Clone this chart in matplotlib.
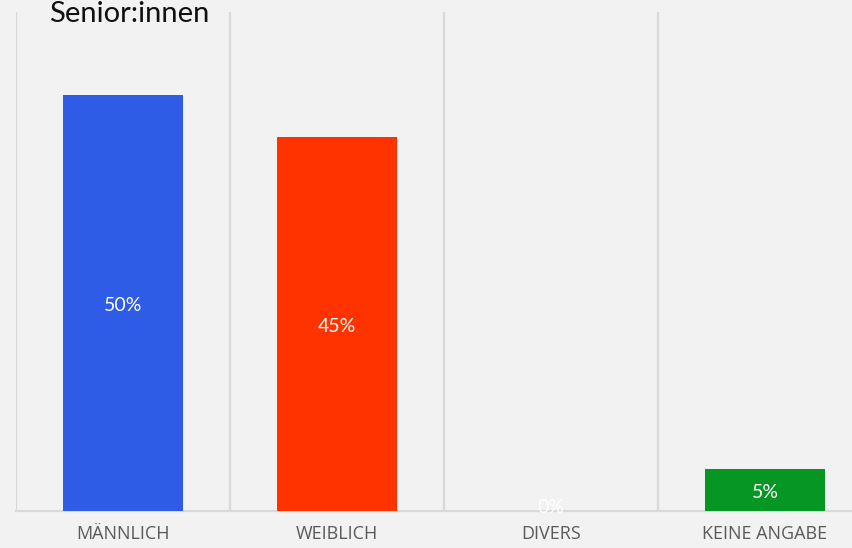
import matplotlib
matplotlib.use("Agg")
import matplotlib.pyplot as plt

categories = ["MÄNNLICH", "WEIBLICH", "DIVERS", "KEINE ANGABE"]
values = [50, 45, 0, 5]
value_labels = ["50%", "45%", "0%", "5%"]
colors = ["#2f5ce6", "#ff3300", "#a0a0a0", "#069623"]
title = "Senior:innen"

W, H = 853, 548
fig = plt.figure(figsize=(W / 100, H / 100), dpi=100, facecolor="#f2f2f2")
left, right, bottom, top = 16, 872, 511, 12
ax = fig.add_axes([left / W, (H - bottom) / H, (right - left) / W, (bottom - top) / H])
ax.set_facecolor("#f2f2f2")

x = list(range(len(categories)))
ax.bar(x, values, width=0.56, color=colors, zorder=3)
ax.set_xlim(-0.5, len(categories) - 0.5)
ax.set_ylim(0, 60)

# vertical separators
for b in [i - 0.5 for i in range(len(categories))]:
    ax.axvline(b, color="#d9d9d9", lw=1.6, zorder=1)

for s in ["top", "right", "left"]:
    ax.spines[s].set_visible(False)
ax.spines["bottom"].set_color("#d9d9d9")
ax.spines["bottom"].set_linewidth(1.6)
ax.set_yticks([])
ax.set_xticks(x)
ax.set_xticklabels(categories, family="Open Sans", fontsize=13, color="#5a5a5a")
ax.tick_params(axis="x", length=0, pad=10)

for xi, v, lab in zip(x, values, value_labels):
    ax.text(xi, max(v / 2, 0.75) - 0.3, lab, ha="center", va="center", color="white",
            family="Lato", fontsize=14, zorder=4)

fig.text(129 / W, 1 - 22 / H, title, ha="center", va="baseline", family="Lato",
         fontsize=21, color="#111111")

fig.savefig("out.png", dpi=100, facecolor=fig.get_facecolor())
